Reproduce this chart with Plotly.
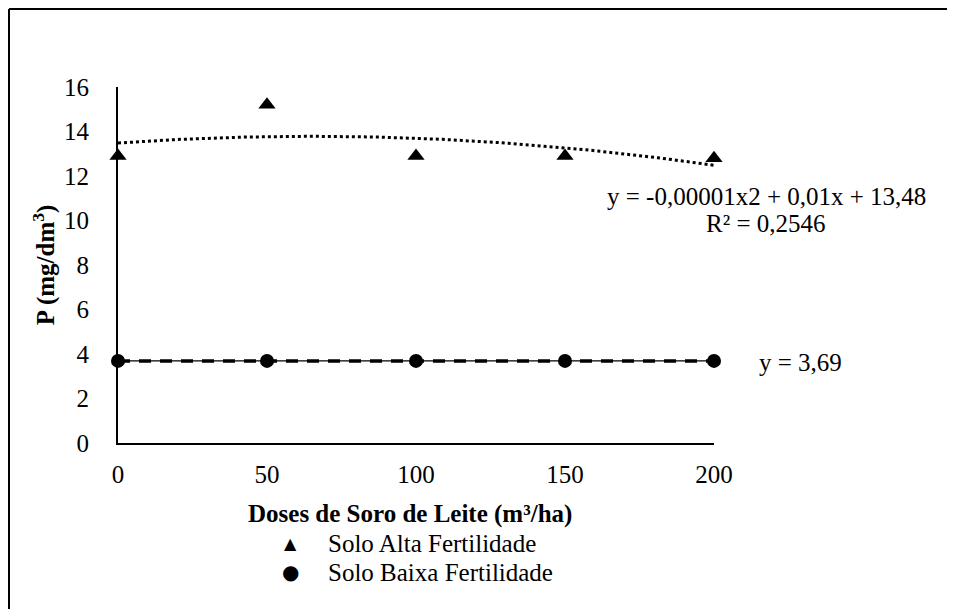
import numpy as np
import plotly.graph_objects as go

doses = [0, 50, 100, 150, 200]
alta = [12.9, 15.2, 12.9, 12.9, 12.8]
baixa = [3.69, 3.69, 3.69, 3.69, 3.69]
y_ticks = [0, 2, 4, 6, 8, 10, 12, 14, 16]
x_ticks = [0, 50, 100, 150, 200]
legend_names = ["Solo Alta Fertilidade", "Solo Baixa Fertilidade"]

FONT = "Liberation Serif, Times New Roman, serif"
SYMFONT = "DejaVu Sans, sans-serif"
FS = 25

# helper: reference pixel -> paper coords (plot area 118..714 x, 87..443 y in page pixels)
def px(x):
    return (x - 118) / 596

def py(y):
    return (443 - y) / 356

coef = np.polyfit(doses, alta, 2)
xs = np.linspace(0, 200, 201)
ys = np.polyval(coef, xs)

fig = go.Figure()

fig.add_trace(go.Scatter(x=doses, y=baixa, mode="lines",
                         line=dict(color="black", width=1.2),
                         showlegend=False, hoverinfo="skip", cliponaxis=False))
fig.add_trace(go.Scatter(x=[doses[0], doses[-1]], y=[np.mean(baixa)] * 2, mode="lines",
                         line=dict(color="black", width=3.5, dash="12px,9px"),
                         showlegend=False, hoverinfo="skip", cliponaxis=False))
fig.add_trace(go.Scatter(x=xs, y=ys, mode="lines",
                         line=dict(color="black", width=3, dash="dot"),
                         showlegend=False, hoverinfo="skip", cliponaxis=False))

fig.add_trace(go.Scatter(x=doses, y=alta, mode="markers", name=legend_names[0],
                         marker=dict(symbol="triangle-up", size=15, color="black"),
                         showlegend=False, cliponaxis=False))
fig.add_trace(go.Scatter(x=doses, y=baixa, mode="markers", name=legend_names[1],
                         marker=dict(symbol="circle", size=14, color="black"),
                         showlegend=False, cliponaxis=False))

annotations = [
    dict(text="<b>Doses de Soro de Leite (m³/ha)</b>", x=px(410), y=py(514),
         xanchor="center", yanchor="middle"),
    dict(text="y = -0,00001x2 + 0,01x + 13,48", x=px(766), y=py(196),
         xanchor="center", yanchor="middle"),
    dict(text="R² = 0,2546", x=px(766), y=py(223), xanchor="center", yanchor="middle"),
    dict(text="y = 3,69", x=px(757), y=py(362), xanchor="left", yanchor="middle"),
    # legend
    dict(text="▲", x=px(290), y=py(543), xanchor="center", yanchor="middle",
         font=dict(family=SYMFONT, size=16)),
    dict(text=legend_names[0], x=px(326), y=py(543), xanchor="left", yanchor="middle"),
    dict(text="●", x=px(290), y=py(572), xanchor="center", yanchor="middle",
         font=dict(family=SYMFONT, size=20)),
    dict(text=legend_names[1], x=px(326), y=py(572), xanchor="left", yanchor="middle"),
]
for a in annotations:
    a.update(xref="paper", yref="paper", showarrow=False)
    a.setdefault("font", dict(family=FONT, size=FS))

fig.update_layout(
    width=947, height=601,
    margin=dict(l=110, r=241, t=79, b=166),
    paper_bgcolor="white", plot_bgcolor="white",
    font=dict(family=FONT, size=FS, color="black"),
    showlegend=False,
    xaxis=dict(range=[0, 200], tickvals=x_ticks, ticktext=[str(v) for v in x_ticks],
               showgrid=False, zeroline=False, showline=True, linecolor="black", linewidth=2,
               ticks="", ticklabelstandoff=8,
               tickfont=dict(family=FONT, size=FS)),
    yaxis=dict(range=[0, 16], tickvals=y_ticks, ticktext=[str(v) for v in y_ticks],
               showgrid=False, zeroline=False, showline=True, linecolor="black", linewidth=2,
               ticks="", ticklabelstandoff=22,
               tickfont=dict(family=FONT, size=FS),
               title=dict(text="<b>P (mg/dm<sup>3</sup>)</b>", font=dict(family=FONT, size=FS),
                          standoff=2)),
    annotations=annotations,
    shapes=[
        dict(type="line", xref="paper", yref="paper",
             x0=px(9), y0=py(620), x1=px(9), y1=py(9),
             line=dict(color="black", width=2)),
        dict(type="line", xref="paper", yref="paper",
             x0=px(9), y0=py(9), x1=px(960), y1=py(9),
             line=dict(color="black", width=2)),
    ],
)

fig.write_html("out.html")
